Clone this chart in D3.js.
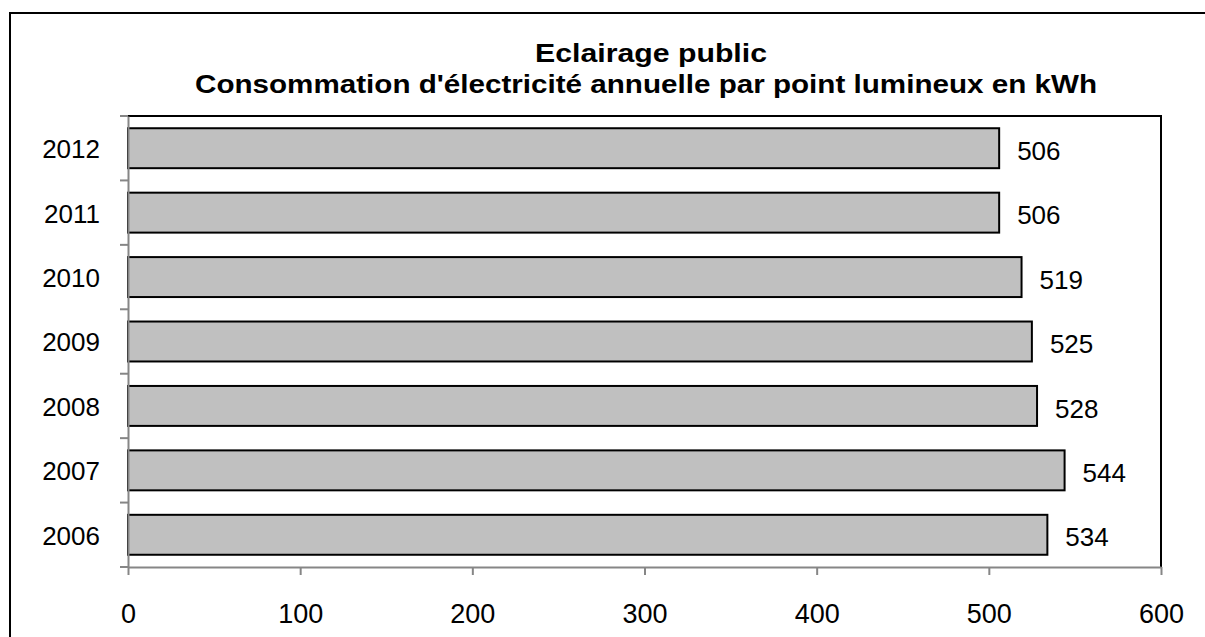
<!DOCTYPE html>
<html><head><meta charset="utf-8">
<script src="https://cdn.jsdelivr.net/npm/d3@7"></script>
<style>body{margin:0;background:#fff}svg{display:block}</style>
</head><body>
<svg id="c" width="1205" height="637"></svg>
<script>
const years = ["2012","2011","2010","2009","2008","2007","2006"];
const values = [506,506,519,525,528,544,534];
const xTicks = [0,100,200,300,400,500,600];
const titleLines = ["Eclairage public","Consommation d'électricité annuelle par point lumineux en kWh"];

const svg = d3.select("#c");
const font = "'Liberation Sans', Arial, sans-serif";
const L=128, R=1161, T=116, B=567;

svg.append("rect").attr("x",10).attr("y",13).attr("width",1220).attr("height",660)
  .attr("fill","#fff").attr("stroke","#000").attr("stroke-width",2);

const x = d3.scaleLinear().domain([0,600]).range([L,R]);
const y = d3.scaleBand().domain(years).range([T,B]).paddingInner(0.38).paddingOuter(0.19);

// frame top/right
svg.append("path").attr("d",`M${L},${T}H${R}V${B}`).attr("fill","none").attr("stroke","#000").attr("stroke-width",2);

// bars
svg.selectAll("rect.bar").data(values).join("rect").attr("class","bar")
  .attr("x",x(0)).attr("y",(d,i)=>y(years[i]))
  .attr("width",d=>x(d)-x(0)).attr("height",y.bandwidth())
  .attr("fill","#c0c0c0").attr("stroke","#000").attr("stroke-width",2);

// value labels
svg.selectAll("text.val").data(values).join("text").attr("class","val")
  .attr("x",d=>x(d)+18).attr("y",(d,i)=>y(years[i])+y.bandwidth()/2)
  .attr("dy","0.45em").attr("font-family",font).attr("font-size",26).text(d=>d);

// x axis
const xa = svg.append("g").attr("transform",`translate(0,${B})`)
  .call(d3.axisBottom(x).tickValues(xTicks).tickSize(8).tickSizeOuter(0));
xa.select(".domain").attr("stroke","#868686").attr("stroke-width",2);
xa.selectAll(".tick line").attr("stroke","#868686").attr("stroke-width",2);
xa.selectAll("text").attr("y",56).attr("dy",null).attr("font-family",font).attr("font-size",27).attr("fill","#000");

// y axis
const ya = svg.append("g").attr("transform",`translate(${L},0)`)
  .call(d3.axisLeft(y).tickSize(0).tickPadding(28));
ya.select(".domain").attr("stroke","#868686").attr("stroke-width",2);
ya.selectAll("text").attr("dy","0.38em").attr("font-family",font).attr("font-size",26).attr("fill","#000");
// boundary ticks
const bounds = years.map(d=>y(d)-y.step()*y.paddingInner()/2).concat([B]);
svg.selectAll("line.yt").data(bounds).join("line").attr("class","yt")
  .attr("x1",L-8).attr("x2",L).attr("y1",d=>d).attr("y2",d=>d)
  .attr("stroke","#868686").attr("stroke-width",2);

// title
const titleW = [232, 902], titleX = [651, 646], titleY = [62, 93];
svg.selectAll("text.title").data(titleLines).join("text").attr("class","title")
  .attr("x",(d,i)=>titleX[i]).attr("y",(d,i)=>titleY[i]).attr("text-anchor","middle")
  .attr("textLength",(d,i)=>titleW[i]).attr("lengthAdjust","spacingAndGlyphs")
  .attr("font-family",font).attr("font-weight","bold").attr("font-size",26).text(d=>d);
</script>
</body></html>
